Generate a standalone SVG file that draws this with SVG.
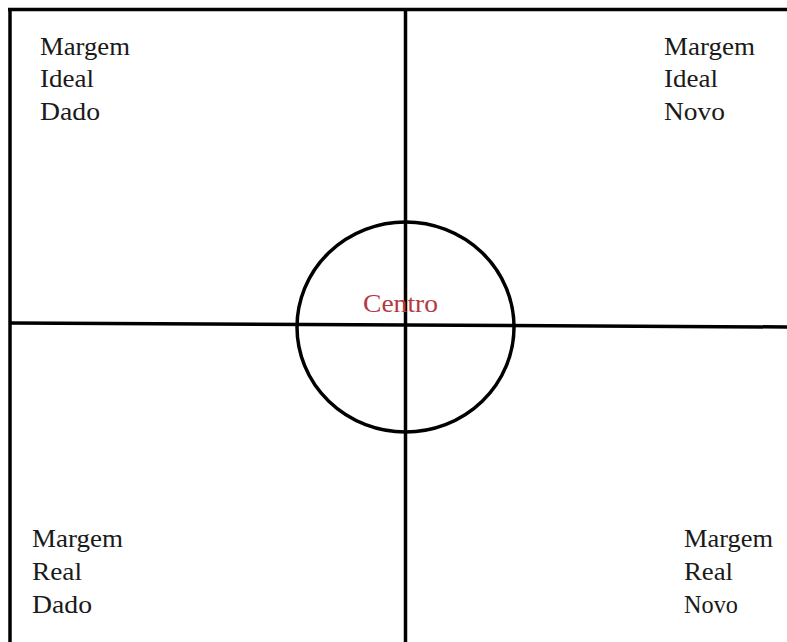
<svg xmlns="http://www.w3.org/2000/svg" width="787" height="642" viewBox="0 0 787 642">
<style>
.ln{stroke:#000;stroke-width:3.5;fill:none}
.t{font-family:"Liberation Serif",serif;font-size:25px;fill:#1a1a1a}
.c{font-family:"Liberation Serif",serif;font-size:25px;fill:#b5393f}
</style>
<rect width="787" height="642" fill="#fff"/>
<g id="connectors">
<line class="ln" x1="8" y1="9.5" x2="787" y2="9.5"/>
<line class="ln" x1="10" y1="8" x2="10" y2="642"/>
<line class="ln" x1="405.5" y1="8" x2="405.5" y2="642"/>
<line class="ln" x1="10" y1="323" x2="787" y2="327"/>
</g>
<g id="centro">
<ellipse class="ln" cx="405.5" cy="327" rx="108.5" ry="105"/>
<text class="c" x="363" y="312" textLength="75" lengthAdjust="spacingAndGlyphs">Centro</text>
</g>
<g id="ideal-dado">
<text class="t" x="40" y="55" textLength="90" lengthAdjust="spacingAndGlyphs">Margem</text>
<text class="t" x="40" y="87" textLength="54" lengthAdjust="spacingAndGlyphs">Ideal</text>
<text class="t" x="40" y="120" textLength="60" lengthAdjust="spacingAndGlyphs">Dado</text>
</g>
<g id="ideal-novo">
<text class="t" x="664" y="55" textLength="91" lengthAdjust="spacingAndGlyphs">Margem</text>
<text class="t" x="664" y="87" textLength="54" lengthAdjust="spacingAndGlyphs">Ideal</text>
<text class="t" x="664" y="120" textLength="61" lengthAdjust="spacingAndGlyphs">Novo</text>
</g>
<g id="real-dado">
<text class="t" x="32" y="547" textLength="91" lengthAdjust="spacingAndGlyphs">Margem</text>
<text class="t" x="32" y="580" textLength="50" lengthAdjust="spacingAndGlyphs">Real</text>
<text class="t" x="32" y="613" textLength="60" lengthAdjust="spacingAndGlyphs">Dado</text>
</g>
<g id="real-novo">
<text class="t" x="684" y="547" textLength="89" lengthAdjust="spacingAndGlyphs">Margem</text>
<text class="t" x="684" y="580" textLength="49" lengthAdjust="spacingAndGlyphs">Real</text>
<text class="t" x="684" y="613" textLength="54" lengthAdjust="spacingAndGlyphs">Novo</text>
</g>
</svg>
